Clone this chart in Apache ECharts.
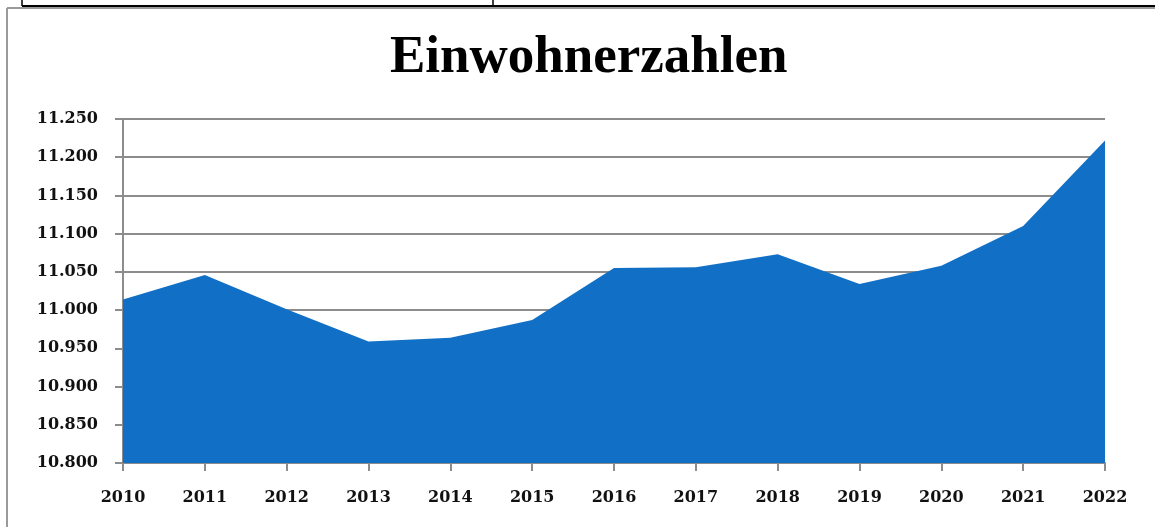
<!DOCTYPE html>
<html>
<head>
<meta charset="utf-8">
<title>Einwohnerzahlen</title>
<script src="https://cdn.jsdelivr.net/npm/echarts@6/dist/echarts.min.js"></script>
<style>
  html, body { margin: 0; padding: 0; background: #fff; }
  #chart { width: 1155px; height: 527px; }
</style>
</head>
<body>
<div id="chart"></div>
<script>
// Jahre und Einwohner (in Tausend)
var years = ['2010', '2011', '2012', '2013', '2014', '2015', '2016',
             '2017', '2018', '2019', '2020', '2021', '2022'];
var population = [11014, 11046, 11001, 10959, 10964, 10987, 11055,
                  11056, 11073, 11034, 11058, 11110, 11222];
var yMin = 10800, yMax = 11250, yStep = 50;

var titleFont = 'Liberation Serif, DejaVu Serif, serif';
var labelFont = 'DejaVu Serif, Liberation Serif, serif';
var gray = '#8c8c8c';

// Tausenderpunkt wie in der Vorlage
function fmt(v){
  return String(v).replace(/\B(?=(\d{3})+(?!\d))/g, '.');
}

var chart = echarts.init(document.getElementById('chart'));
chart.setOption({
  animation: false,
  title: {
    text: 'Einwohnerzahlen',
    left: 385,
    top: 27,
    textStyle: {
      fontFamily: titleFont,
      fontWeight: 'bold',
      fontSize: 53,
      color: '#000'
    }
  },
  grid: { left: 123, right: 50, top: 119, bottom: 64 },
  xAxis: {
    type: 'category',
    data: years,
    boundaryGap: false,
    axisLine: { lineStyle: { color: gray, width: 2 } },
    axisTick: { show: true, length: 8, alignWithLabel: true, lineStyle: { color: gray, width: 2 } },
    axisLabel: { margin: 27, color: '#111', fontFamily: labelFont, fontWeight: 'bold', fontSize: 16 }
  },
  yAxis: {
    type: 'value',
    min: yMin,
    max: yMax,
    interval: yStep,
    axisLine: { show: true, lineStyle: { color: gray, width: 2 } },
    axisTick: { show: true, length: 8, lineStyle: { color: gray, width: 2 } },
    splitLine: { lineStyle: { color: gray, width: 2 } },
    axisLabel: {
      margin: 25, color: '#111', fontFamily: labelFont, fontWeight: 'bold', fontSize: 16,
      formatter: fmt
    }
  },
  series: [{
    type: 'line',
    data: population,
    symbol: 'none',
    lineStyle: { width: 0 },
    areaStyle: { color: '#1170c6', opacity: 1 },
    z: 3
  }],
  graphic: [
    // grauer Diagrammrahmen
    { type: 'line', shape: { x1: 7, y1: 8, x2: 7, y2: 527 }, style: { stroke: '#9a9a9a', lineWidth: 2 } },
    { type: 'line', shape: { x1: 7, y1: 8, x2: 1155, y2: 8 }, style: { stroke: '#9a9a9a', lineWidth: 2 } },
    // Tabellenrand darüber
    { type: 'line', shape: { x1: 22, y1: 6, x2: 1155, y2: 6 }, style: { stroke: '#000', lineWidth: 2 } },
    { type: 'line', shape: { x1: 22, y1: 0, x2: 22, y2: 6 }, style: { stroke: '#000', lineWidth: 1.5 } },
    { type: 'line', shape: { x1: 493, y1: 0, x2: 493, y2: 6 }, style: { stroke: '#000', lineWidth: 1.5 } }
  ]
});
</script>
</body>
</html>
